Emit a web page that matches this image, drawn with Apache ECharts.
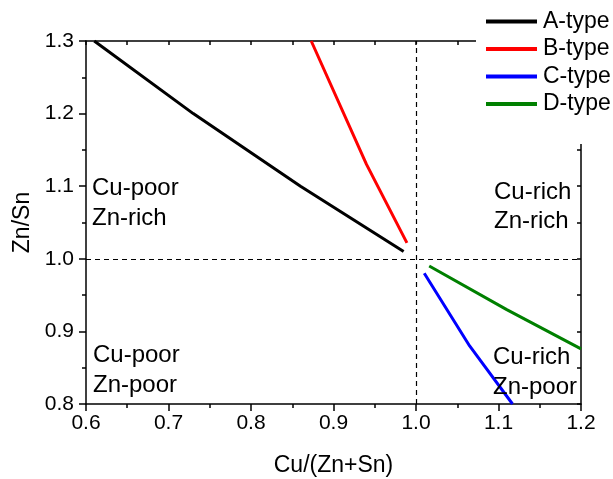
<!DOCTYPE html>
<html>
<head>
<meta charset="utf-8">
<script src="https://cdn.jsdelivr.net/npm/echarts@6/dist/echarts.min.js"></script>
<style>html,body{margin:0;padding:0;background:#fff;}#c{width:613px;height:479px;}</style>
</head>
<body>
<div id="c"></div>
<script>
// ---- data ----
const seriesNames = ['A-type', 'B-type', 'C-type', 'D-type'];
const seriesColors = ['#000000', '#ff0000', '#0000ff', '#008000'];
const aType = [[0.61, 1.30], [0.73, 1.20], [0.86, 1.10], [0.985, 1.01]];
const bType = [[0.873, 1.30], [0.94, 1.13], [0.989, 1.022]];
const cType = [[1.01, 0.98], [1.065, 0.88], [1.117, 0.80]];
const dType = [[1.016, 0.99], [1.11, 0.93], [1.20, 0.876]];
const xTickLabels = ['0.6', '0.7', '0.8', '0.9', '1.0', '1.1', '1.2'];
const yTickLabels = ['0.8', '0.9', '1.0', '1.1', '1.2', '1.3'];
const xRange = [0.6, 1.2];
const yRange = [0.8, 1.3];
const refX = 1.0, refY = 1.0;
const regionLabels = [
  ['Cu-poor', 'Zn-rich'],
  ['Cu-poor', 'Zn-poor'],
  ['Cu-rich', 'Zn-rich'],
  ['Cu-rich', 'Zn-poor']
];
const xTitle = 'Cu/(Zn+Sn)';
const yTitle = 'Zn/Sn';

// ---- chart ----
const FONT = '"Liberation Sans", Arial, sans-serif';
const chart = echarts.init(document.getElementById('c'), null, {renderer: 'canvas'});
const allData = [aType, bType, cType, dType];

function fmt(list, v) {
  const s = v.toFixed(1);
  return list.indexOf(s) >= 0 ? s : '';
}

const axisLineStyle = {color: '#000', width: 1.5};

const series = allData.map((d, i) => ({
  name: seriesNames[i],
  type: 'line',
  data: d,
  symbol: 'none',
  lineStyle: {color: seriesColors[i], width: 3},
  itemStyle: {color: seriesColors[i]},
  z: 3
}));
series.push({
  name: 'ref',
  type: 'line',
  data: [],
  symbol: 'none',
  markLine: {
    silent: true,
    symbol: 'none',
    label: {show: false},
    lineStyle: {color: '#000', width: 1.2, type: [5, 4]},
    data: [{xAxis: refX}, {yAxis: refY}]
  }
});

// region label text elements (two lines each)
const regionPos = [
  {x: 92, y1: 188, y2: 218},
  {x: 93, y1: 355, y2: 385},
  {x: 494, y1: 192, y2: 221},
  {x: 493, y1: 357, y2: 387}
];
const graphics = [{
  type: 'rect',
  left: 476, top: 0,
  shape: {width: 137, height: 144},
  style: {fill: '#fff'},
  z: 50
}];
regionLabels.forEach((lines, i) => {
  const p = regionPos[i];
  graphics.push({type: 'text', x: p.x, y: p.y1, z: 60,
    style: {text: lines[0], font: '24px ' + FONT, fill: '#000', verticalAlign: 'middle', align: 'left'}});
  graphics.push({type: 'text', x: p.x, y: p.y2, z: 60,
    style: {text: lines[1], font: '24px ' + FONT, fill: '#000', verticalAlign: 'middle', align: 'left'}});
});

chart.setOption({
  animation: false,
  backgroundColor: '#fff',
  grid: {left: 86, right: 32, top: 41, bottom: 75, containLabel: false, outerBoundsMode: 'none'},
  legend: {
    data: seriesNames,
    orient: 'vertical',
    left: 486, top: 10,
    padding: 0,
    itemWidth: 51, itemHeight: 4,
    itemGap: 4.5,
    icon: 'rect',
    z: 100,
    textStyle: {fontFamily: FONT, fontSize: 23, color: '#000', padding: [0, 0, 0, 1], lineHeight: 22}
  },
  xAxis: [{
    type: 'value', position: 'bottom',
    min: xRange[0], max: xRange[1], interval: 0.1,
    splitLine: {show: false},
    axisLine: {show: true, onZero: false, lineStyle: axisLineStyle},
    axisTick: {show: true, inside: false, length: 7, lineStyle: {color: '#000', width: 1.5}},
    minorTick: {show: true, splitNumber: 2, length: 4, lineStyle: {color: '#000', width: 1.5}},
    axisLabel: {fontFamily: FONT, fontSize: 21, color: '#000', margin: 9, formatter: v => fmt(xTickLabels, v)},
    name: xTitle, nameLocation: 'middle', nameGap: 50,
    nameTextStyle: {fontFamily: FONT, fontSize: 23, color: '#000'}
  }, {
    type: 'value', position: 'top',
    min: xRange[0], max: xRange[1], interval: 0.1,
    splitLine: {show: false},
    axisLine: {show: true, onZero: false, lineStyle: axisLineStyle},
    axisTick: {show: true, inside: true, length: 4, lineStyle: {color: '#000', width: 1.5}},
    minorTick: {show: true, splitNumber: 2, length: 4, lineStyle: {color: '#000', width: 1.5}},
    axisLabel: {show: false}
  }],
  yAxis: [{
    type: 'value', position: 'left',
    min: yRange[0], max: yRange[1], interval: 0.1,
    splitLine: {show: false},
    axisLine: {show: true, onZero: false, lineStyle: axisLineStyle},
    axisTick: {show: true, inside: false, length: 7, lineStyle: {color: '#000', width: 1.5}},
    minorTick: {show: true, splitNumber: 2, length: 4, lineStyle: {color: '#000', width: 1.5}},
    axisLabel: {fontFamily: FONT, fontSize: 21, color: '#000', margin: 12, formatter: v => fmt(yTickLabels, v)},
    name: yTitle, nameLocation: 'middle', nameGap: 50, nameRotate: 90,
    nameTextStyle: {fontFamily: FONT, fontSize: 23, color: '#000'}
  }, {
    type: 'value', position: 'right',
    min: yRange[0], max: yRange[1], interval: 0.1,
    splitLine: {show: false},
    axisLine: {show: true, onZero: false, lineStyle: axisLineStyle},
    axisTick: {show: true, inside: true, length: 4, lineStyle: {color: '#000', width: 1.5}},
    minorTick: {show: true, splitNumber: 2, length: 4, lineStyle: {color: '#000', width: 1.5}},
    axisLabel: {show: false}
  }],
  graphic: graphics,
  series: series
});
</script>
</body>
</html>
